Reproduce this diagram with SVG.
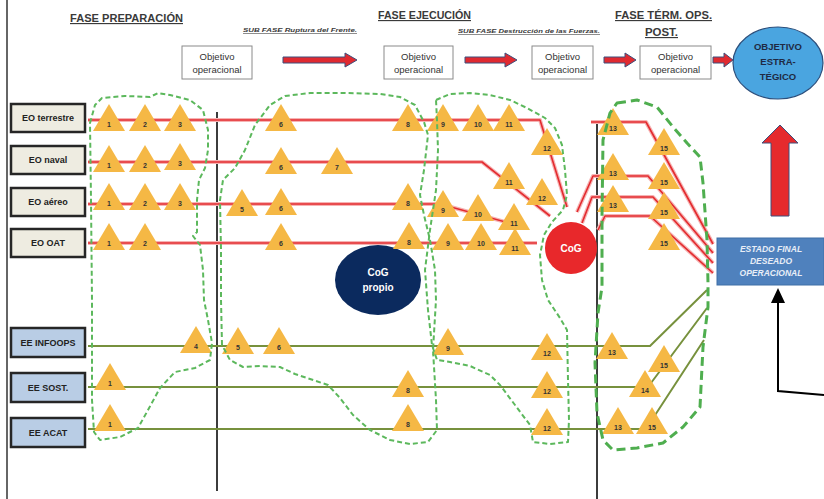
<svg xmlns="http://www.w3.org/2000/svg" xmlns:xlink="http://www.w3.org/1999/xlink" width="824" height="499" viewBox="0 0 824 499">
<style>
text{font-family:"Liberation Sans",Arial,sans-serif;}
.hdr{font-size:11.5px;font-weight:bold;fill:#3a3a3a;text-decoration:underline;}
.sub{font-size:5.8px;font-weight:bold;font-style:italic;fill:#3a3a3a;text-decoration:underline;}
.obj{fill:#fff;stroke:#8a8a8a;stroke-width:1;}
.objt{font-size:9.5px;fill:#333;text-anchor:middle;}
.harr{fill:#e02a30;stroke:#3d4f7c;stroke-width:1;}
.eo{fill:#eeece1;stroke:#262626;stroke-width:2.5;}
.ee{fill:#b9cde5;stroke:#262626;stroke-width:2.5;}
.lbl{font-size:9px;font-weight:bold;fill:#222;text-anchor:middle;}
.rglow{fill:none;stroke:#f6b3b3;stroke-width:4;stroke-linejoin:round;}
.red{fill:none;stroke:#e32b2f;stroke-width:1.6;stroke-linejoin:round;}
.grn{fill:none;stroke:#77913d;stroke-width:2;stroke-linejoin:round;}
.vl{stroke:#3c3c3c;stroke-width:2;}
.tri{fill:#f5b845;}
.num{font-size:7px;font-weight:bold;fill:#333;text-anchor:middle;}
.blob{fill:none;stroke:#5cb85c;stroke-width:2;stroke-dasharray:5 3;stroke-linejoin:round;}
.blob4{fill:none;stroke:#4fae4f;stroke-width:3;stroke-dasharray:9 5;stroke-linejoin:round;}
.wt{fill:#fff;font-weight:bold;text-anchor:middle;}
</style>
<defs>
<polygon id="tri" points="0,0 16,27 -16,27"/>
<marker id="ah" markerWidth="15" markerHeight="14" refX="1" refY="7" orient="auto" markerUnits="userSpaceOnUse" viewBox="0 0 15 14">
<polygon points="0,0 15,7 0,14" fill="#000"/>
</marker>
</defs>
<rect width="824" height="499" fill="#fff"/>
<line x1="7" y1="0" x2="7" y2="499" stroke="#333" stroke-width="1.5"/>

<g id="headers">
<text class="hdr" x="70" y="22" textLength="113" lengthAdjust="spacingAndGlyphs">FASE PREPARACIÓN</text>
<text class="sub" x="243" y="32" textLength="114" lengthAdjust="spacingAndGlyphs">SUB FASE  Ruptura del Frente.</text>
<text class="hdr" x="378" y="19" textLength="93" lengthAdjust="spacingAndGlyphs">FASE EJECUCIÓN</text>
<text class="sub" x="458" y="33" textLength="142" lengthAdjust="spacingAndGlyphs">SUB FASE Destrucción de las Fuerzas.</text>
<text class="hdr" x="615" y="19" textLength="97" lengthAdjust="spacingAndGlyphs">FASE TÉRM. OPS.</text>
<text class="hdr" x="645" y="36" textLength="33" lengthAdjust="spacingAndGlyphs">POST.</text>
</g>

<g id="obj1"><rect class="obj" x="182" y="46" width="70" height="33"/><text class="objt" x="217" y="60">Objetivo</text><text class="objt" x="217" y="73">operacional</text></g>
<g id="obj2"><rect class="obj" x="384" y="46" width="69" height="33"/><text class="objt" x="418.5" y="60">Objetivo</text><text class="objt" x="418.5" y="73">operacional</text></g>
<g id="obj3"><rect class="obj" x="532" y="46" width="61" height="33"/><text class="objt" x="562.5" y="60">Objetivo</text><text class="objt" x="562.5" y="73">operacional</text></g>
<g id="obj4"><rect class="obj" x="640" y="46" width="71" height="33"/><text class="objt" x="675.5" y="60">Objetivo</text><text class="objt" x="675.5" y="73">operacional</text></g>
<g id="objetivo-estrategico">
<ellipse cx="778" cy="63" rx="45" ry="36" fill="#4aa5e0" stroke="#2c4f7c" stroke-width="1.2"/>
<text class="wt" x="778" y="50" font-size="9.5" style="fill:#1f2a44">OBJETIVO</text>
<text class="wt" x="778" y="65" font-size="9.5" style="fill:#1f2a44">ESTRA-</text>
<text class="wt" x="778" y="80" font-size="9.5" style="fill:#1f2a44">TÉGICO</text>
</g>

<g id="row-labels">
<g id="eo-terrestre"><rect class="eo" x="11" y="104" width="74" height="28"/><text class="lbl" x="48" y="121">EO terrestre</text></g>
<g id="eo-naval"><rect class="eo" x="11" y="146" width="74" height="28"/><text class="lbl" x="48" y="163">EO naval</text></g>
<g id="eo-aereo"><rect class="eo" x="11" y="188" width="74" height="28"/><text class="lbl" x="48" y="205">EO aéreo</text></g>
<g id="eo-oat"><rect class="eo" x="11" y="229" width="74" height="28"/><text class="lbl" x="48" y="246">EO  OAT</text></g>
<g id="ee-infoops"><rect class="ee" x="11" y="328" width="74" height="29"/><text class="lbl" x="48" y="346">EE INFOOPS</text></g>
<g id="ee-sost"><rect class="ee" x="11" y="373" width="74" height="29"/><text class="lbl" x="48" y="391">EE  SOST.</text></g>
<g id="ee-acat"><rect class="ee" x="11" y="418" width="74" height="29"/><text class="lbl" x="48" y="436">EE ACAT</text></g>
</g>

<g id="connectors">
<path class="harr" d="M283,57 H345 V53 L357,60 L345,67 V63 H283 Z"/>
<path class="harr" d="M465,57 H505 V53 L517,60 L505,67 V63 H465 Z"/>
<path class="harr" d="M604,57 H625 V53 L636,60 L625,67 V63 H604 Z"/>
<path class="harr" d="M713,57 H724 V53 L733,60 L724,67 V63 H713 Z"/>
<path d="M780,125 L798,143 H789 V216 H771 V143 H762 Z" fill="#e52a2d" stroke="#3d4f7c" stroke-width="1"/>

<line class="vl" x1="217" y1="112" x2="217" y2="491"/>
<line class="vl" x1="597" y1="120" x2="597" y2="499"/>

<g id="red-lines">
<path class="rglow" d="M88,120 H540 L567,207"/>
<path class="rglow" d="M88,162 H482 L550,216"/>
<path class="rglow" d="M88,204 H440 L520,226"/>
<path class="rglow" d="M88,243 H537"/>
<path class="rglow" d="M591,122 H646 L713,244"/>
<path class="rglow" d="M577,212 L593,176 H648 L713,253"/>
<path class="rglow" d="M582,223 L592,197 H653 L713,263"/>
<path class="rglow" d="M598,230 L605,216 H650 L713,273"/>
<path class="red" d="M88,120 H540 L567,207"/>
<path class="red" d="M88,162 H482 L550,216"/>
<path class="red" d="M88,204 H440 L520,226"/>
<path class="red" d="M88,243 H537"/>
<path class="red" d="M591,122 H646 L713,244"/>
<path class="red" d="M577,212 L593,176 H648 L713,253"/>
<path class="red" d="M582,223 L592,197 H653 L713,263"/>
<path class="red" d="M598,230 L605,216 H650 L713,273"/>
</g>
<g id="green-lines">
<path class="grn" d="M88,346 H650 L707,290"/>
<path class="grn" d="M88,387 H648 L707,308"/>
<path class="grn" d="M88,429 H646 L704,340"/>
</g>
<polyline points="824,395 778,391 778,302" fill="none" stroke="#000" stroke-width="2" marker-end="url(#ah)"/>
</g>

<g id="cog-propio"><ellipse cx="378" cy="280" rx="43" ry="35" fill="#0b2a5e"/><text class="wt" x="378" y="276" font-size="10">CoG</text><text class="wt" x="378" y="291" font-size="10">propio</text></g>
<g id="cog"><circle cx="571" cy="248" r="26" fill="#e8282b"/><text class="wt" x="571" y="252" font-size="10">CoG</text></g>

<g id="estado-final">
<rect x="717" y="238" width="107" height="47" fill="#4f81bd" stroke="#3f6ea6" stroke-width="1"/>
<text x="771" y="252" font-size="8.5" font-style="italic" font-weight="bold" fill="#e8eef7" text-anchor="middle">ESTADO FINAL</text>
<text x="771" y="264" font-size="8.5" font-style="italic" font-weight="bold" fill="#e8eef7" text-anchor="middle">DESEADO</text>
<text x="771" y="276" font-size="8.5" font-style="italic" font-weight="bold" fill="#e8eef7" text-anchor="middle">OPERACIONAL</text>
</g>

<g id="triangles">
<g class="tri">
<use href="#tri" x="109" y="104"/><use href="#tri" x="145" y="104"/><use href="#tri" x="180" y="104"/><use href="#tri" x="281" y="104"/><use href="#tri" x="408" y="104"/><use href="#tri" x="443" y="104"/><use href="#tri" x="478" y="104"/><use href="#tri" x="509" y="104"/><use href="#tri" x="547" y="128"/>
<use href="#tri" x="109" y="145"/><use href="#tri" x="145" y="145"/><use href="#tri" x="180" y="143"/><use href="#tri" x="281" y="147"/><use href="#tri" x="337" y="147"/><use href="#tri" x="509" y="162"/><use href="#tri" x="542" y="178"/>
<use href="#tri" x="109" y="183"/><use href="#tri" x="145" y="183"/><use href="#tri" x="180" y="183"/><use href="#tri" x="242" y="189"/><use href="#tri" x="281" y="188"/><use href="#tri" x="408" y="183"/><use href="#tri" x="443" y="190"/><use href="#tri" x="478" y="194"/><use href="#tri" x="514" y="203"/>
<use href="#tri" x="109" y="223"/><use href="#tri" x="145" y="223"/><use href="#tri" x="281" y="223"/><use href="#tri" x="409" y="222"/><use href="#tri" x="448" y="223"/><use href="#tri" x="481" y="223"/><use href="#tri" x="515" y="228"/>
<use href="#tri" x="613" y="108"/><use href="#tri" x="664" y="128"/><use href="#tri" x="613" y="153"/><use href="#tri" x="664" y="162"/><use href="#tri" x="613" y="185"/><use href="#tri" x="664" y="192"/><use href="#tri" x="664" y="223"/>
<use href="#tri" x="196" y="326"/><use href="#tri" x="238" y="327"/><use href="#tri" x="279" y="327"/><use href="#tri" x="448" y="328"/><use href="#tri" x="547" y="333"/><use href="#tri" x="612" y="332"/><use href="#tri" x="664" y="345"/>
<use href="#tri" x="110" y="363"/><use href="#tri" x="408" y="370"/><use href="#tri" x="547" y="371"/><use href="#tri" x="645" y="370"/>
<use href="#tri" x="110" y="404"/><use href="#tri" x="408" y="404"/><use href="#tri" x="547" y="408"/><use href="#tri" x="618" y="407"/><use href="#tri" x="652" y="407"/>
</g>
<g class="num">
<text x="109" y="127">1</text><text x="145" y="127">2</text><text x="180" y="127">3</text><text x="281" y="127">6</text><text x="408" y="127">8</text><text x="443" y="127">9</text><text x="478" y="127">10</text><text x="509" y="127">11</text><text x="547" y="151">12</text>
<text x="109" y="168">1</text><text x="145" y="168">2</text><text x="180" y="166">3</text><text x="281" y="170">6</text><text x="337" y="170">7</text><text x="509" y="185">11</text><text x="542" y="201">12</text>
<text x="109" y="206">1</text><text x="145" y="206">2</text><text x="180" y="206">3</text><text x="242" y="212">5</text><text x="281" y="211">6</text><text x="408" y="206">8</text><text x="443" y="213">9</text><text x="478" y="217">10</text><text x="514" y="226">11</text>
<text x="109" y="246">1</text><text x="145" y="246">2</text><text x="281" y="246">6</text><text x="409" y="245">8</text><text x="448" y="246">9</text><text x="481" y="246">10</text><text x="515" y="251">11</text>
<text x="613" y="131">13</text><text x="664" y="151">15</text><text x="613" y="176">13</text><text x="664" y="185">15</text><text x="613" y="208">13</text><text x="664" y="215">15</text><text x="664" y="246">15</text>
<text x="196" y="349">4</text><text x="238" y="350">5</text><text x="279" y="350">6</text><text x="448" y="351">9</text><text x="547" y="356">12</text><text x="612" y="355">13</text><text x="664" y="368">15</text>
<text x="110" y="386">1</text><text x="408" y="393">8</text><text x="547" y="394">12</text><text x="645" y="393">14</text>
<text x="110" y="427">1</text><text x="408" y="427">8</text><text x="547" y="431">12</text><text x="618" y="430">13</text><text x="652" y="430">15</text>
</g>
</g>

<g id="groupings">
<polygon class="blob" points="90,123 95,105 102,98 125,96 150,97 158,93 170,95 190,100 203,110 208,130 208,150 205,168 199,180 197,200 197,232 193,236 200,245 203,270 204,300 208,320 212,343 210,360 195,368 175,372 160,388 148,410 138,428 120,437 100,440 94,432 92,400 92,300 91,200"/>
<polygon class="blob" points="222,345 221,300 221,250 220,200 223,180 235,168 245,150 255,125 270,105 285,96 310,93 345,93 380,94 400,97 415,105 424,122 428,135 424,170 420,195 424,215 430,240 435,270 436,300 433,350 436,400 437,430 428,442 410,444 390,440 370,430 353,415 340,398 328,385 310,379 295,374 280,367 260,366 243,367 230,360"/>
<polygon class="blob" points="436,100 450,94 470,93 490,95 510,100 527,108 545,118 555,128 562,145 565,170 567,195 563,210 552,222 544,235 540,255 542,280 548,300 560,318 567,330 568,380 569,420 568,442 550,444 533,442 530,425 515,405 500,385 490,375 470,366 450,362 437,360 432,345 428,310 425,270 430,230 436,190 438,150 437,120"/>
<polygon class="blob4" points="617,103 637,100 657,107 673,127 687,143 700,157 703,183 707,240 708,283 708,307 703,347 700,407 683,427 663,443 637,448 613,450 603,440 597,413 595,363 598,313 602,287 602,217 603,140 610,113"/>
</g>
</svg>
